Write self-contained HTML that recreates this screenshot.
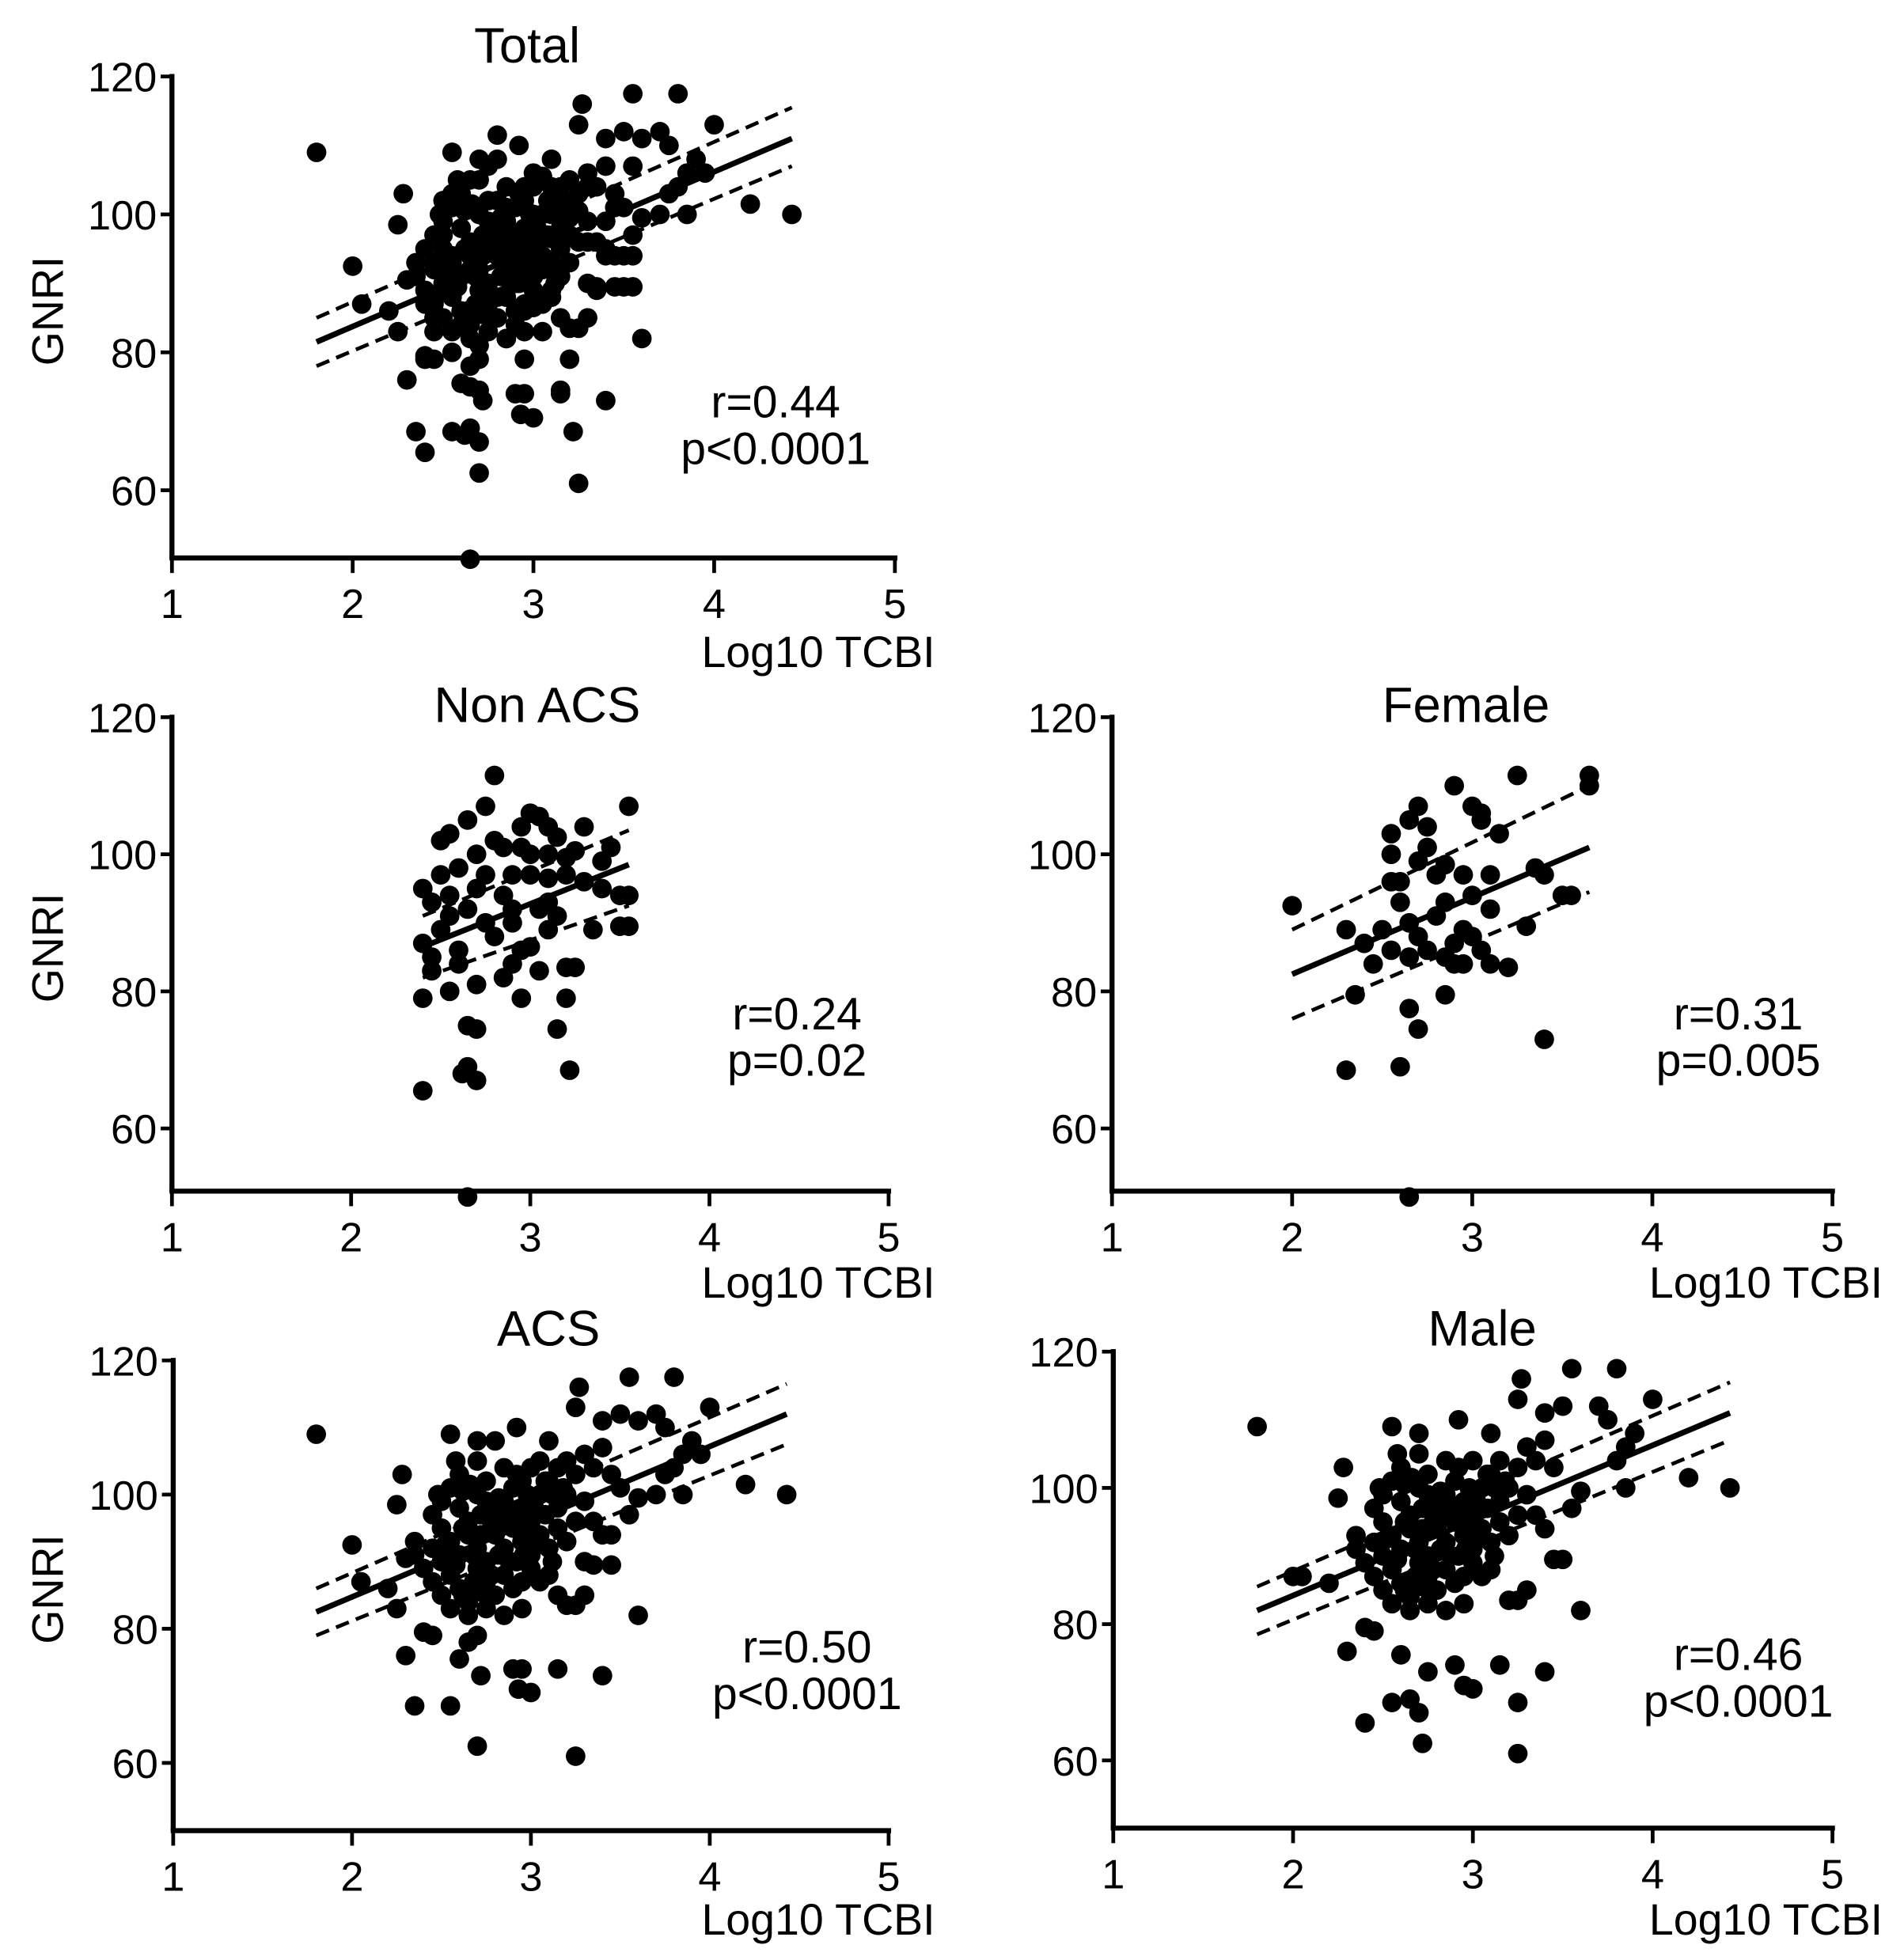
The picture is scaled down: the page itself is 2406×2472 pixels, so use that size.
<!DOCTYPE html>
<html><head><meta charset="utf-8"><style>
html,body{margin:0;padding:0;background:#fff;}
svg{display:block;font-family:"Liberation Sans",Arial,sans-serif;}
</style></head><body>
<svg id="chart" width="2406" height="2472" viewBox="0 0 1517 1560" preserveAspectRatio="none" xmlns="http://www.w3.org/2000/svg"></svg>
<script>
const nonAcsPoints=[[2.8,111.5],[2.55,103],[2.65,105],[2.75,107],[2.85,101],[2.95,101],[3.0,106],[3.05,105.5],[3.1,100],[3.2,99.5],[3.3,104],[3.45,101],[3.55,107],[2.4,95],[2.45,93],[2.5,97],[2.6,98],[2.7,100],[2.9,97],[3.0,97],[3.1,96.5],[3.2,97],[3.3,96],[3.4,95],[3.5,94],[3.55,94],[3.5,89.5],[3.55,89.5],[2.4,87],[2.45,85],[2.5,89],[2.55,91],[2.6,86],[2.65,92],[2.7,95],[2.75,90],[2.8,88],[2.85,82],[2.9,84],[2.95,86],[3.0,86.5],[3.05,92],[3.1,89],[3.15,91],[3.2,83.5],[3.25,83.5],[2.4,79],[2.55,80],[2.65,75],[2.7,74.5],[2.95,79],[3.15,74.5],[3.2,79],[3.22,68.5],[2.65,69],[2.7,67],[2.62,68],[2.4,65.5],[2.65,50],[2.6,84],[2.9,92],[3.0,100],[2.5,102],[2.75,97],[2.85,94],[3.35,89],[2.45,83],[2.7,81],[3.05,83],[2.8,102],[3.15,102.5],[3.25,100.5],[3.4,99],[2.95,104],[3.1,104],[2.55,94],[2.9,90],[3.1,93]];
const femalePoints=[[3.25,111.5],[3.65,111.5],[3.65,110],[2.9,110],[3.0,107],[3.05,106],[2.7,107],[2.55,103],[2.65,105],[2.75,104],[2.6,96],[2.55,96],[2.7,99],[2.8,97],[2.85,98.5],[2.95,97],[3.1,97],[3.05,105],[3.15,103],[3.35,98],[3.4,97],[3.5,94],[3.55,94],[3.3,89.5],[2.0,92.5],[2.3,89],[2.4,87],[2.45,84],[2.5,89],[2.6,93],[2.65,90],[2.7,88],[2.75,86],[2.8,91],[2.85,85],[2.9,87],[2.95,89],[3.0,94],[3.05,86],[2.55,86],[2.65,85],[2.9,84],[2.95,84],[3.0,88],[3.1,84],[3.2,83.5],[2.35,79.5],[2.85,79.5],[2.65,77.5],[2.7,74.5],[3.4,73],[2.3,68.5],[2.6,69],[2.65,50],[2.85,93],[3.1,92],[2.75,101],[2.55,100]];
const acsCluster=[[2.45,97],[2.5,95],[2.55,101],[2.6,98],[2.65,96],[2.7,100],[2.75,102],[2.8,97],[2.85,99],[2.9,101],[2.95,98],[3.0,96],[3.05,100],[3.1,102],[3.15,98],[3.2,100],[3.25,96],[2.45,92],[2.5,90],[2.55,93],[2.6,91],[2.65,94],[2.7,92],[2.75,90],[2.8,94],[2.85,92],[2.9,95],[2.95,93],[3.0,91],[3.05,94],[3.1,92],[3.15,95],[3.2,93],[3.3,99],[2.45,87],[2.5,85],[2.55,88],[2.6,86],[2.65,84],[2.7,89],[2.75,87],[2.8,85],[2.85,88],[2.9,86],[2.95,83],[3.0,89],[3.05,87],[3.1,88],[2.55,83],[2.65,82],[2.75,83],[2.85,82],[2.95,87],[2.4,89],[2.35,93],[2.5,99],[2.6,103],[2.7,105],[2.85,104],[3.0,104],[3.15,104],[2.62,100.5],[2.78,95],[2.92,90],[3.08,97],[3.25,103],[3.3,106],[3.35,104],[3.4,107],[2.58,105],[2.68,87],[2.82,91],[2.72,97],[2.98,100],[3.12,90],[2.52,92.5],[2.62,95],[2.72,94],[2.82,99.5],[2.92,97],[3.02,93],[3.12,100],[2.58,89.5],[2.68,91],[2.78,88],[2.88,90],[2.98,95],[3.08,102],[2.62,85],[2.72,85.5],[2.82,96],[2.92,103],[3.02,98],[3.18,101],[2.75,99],[2.88,96.5],[2.96,91],[2.48,100],[2.66,101.5]];
const acsOutliers=[[1.8,109],[2.0,92.5],[2.05,87],[2.2,86],[2.25,83],[2.25,98.5],[2.28,103],[2.3,90.5],[2.35,91],[2.3,76],[2.4,79.5],[2.45,79],[2.35,68.5],[2.55,68.5],[2.6,75.5],[2.65,78],[2.7,79],[2.72,73],[2.7,62.5],[2.9,74],[2.95,74],[2.93,71],[3.0,70.5],[3.15,74],[3.4,73],[3.25,61],[3.6,82],[4.2,101.5],[4.43,100],[4.0,113],[3.8,117.5],[3.55,117.5],[3.27,116],[3.25,113],[3.5,112],[3.6,111],[3.4,111],[3.7,112],[3.75,110],[3.9,108],[3.95,106],[3.85,106],[3.8,104],[3.75,103],[3.85,100],[3.7,100],[3.6,99.5],[3.5,101],[3.45,103],[3.55,97],[3.35,96],[3.4,94],[3.45,94],[3.3,90],[3.35,89.5],[3.45,89.5],[3.3,85],[3.25,83.5],[3.2,83.5],[3.15,85],[2.55,109],[2.7,108],[2.8,108],[2.92,110],[3.1,108],[3.2,105],[3.05,105],[2.95,102]];
const maleCluster=acsCluster;
const maleOutliers=[[1.8,109],[2.05,87],[2.2,86],[2.25,98.5],[2.28,103],[2.3,76],[2.4,79.5],[2.45,79],[2.4,65.5],[2.55,68.5],[2.6,75.5],[2.65,69],[2.7,67],[2.72,62.5],[2.75,73],[2.9,74],[2.95,71],[3.0,70.5],[3.15,74],[3.25,68.5],[3.25,61],[3.4,73],[3.6,82],[4.2,101.5],[4.43,100],[4.0,113],[3.8,117.5],[3.55,117.5],[3.27,116],[3.25,113],[3.5,112],[3.4,111],[3.7,112],[3.75,110],[3.9,108],[3.85,106],[3.8,104],[3.85,100],[3.6,99.5],[3.45,103],[3.55,97],[3.35,96],[3.4,94],[3.45,89.5],[3.5,89.5],[3.3,85],[3.25,83.5],[3.2,83.5],[2.55,109],[2.7,108],[2.92,110],[3.1,108],[2.35,91],[2.0,87]];
const xTicks=[1,2,3,4,5];
const yTicks=[60,80,100,120];
const fitTotal=[1.8,81.5,4.43,111], bandTotal=[1.8,85,78,4.43,115.5,107];
const fitNonAcs=[2.4,86.5,3.55,98.5], bandNonAcs=[2.4,91,82,3.55,103.5,92.5];
const fitFemale=[2.0,82.5,3.65,101], bandFemale=[2.0,89,76,3.65,110,94.5];
const fitAcs=[1.8,82.5,4.43,112], bandAcs=[1.8,86,79,4.43,116.5,107.5];
const fitMale=[1.8,82,4.43,111], bandMale=[1.8,85.5,78.5,4.43,115.5,107];

const NS="http://www.w3.org/2000/svg";
const svg=document.getElementById('chart');
function mk(tag,attrs,parent){const e=document.createElementNS(NS,tag);for(const k in attrs)e.setAttribute(k,attrs[k]);(parent||svg).appendChild(e);return e;}

const panels=[
 {key:'total',title:'Total',ax:137,x1:713,y120:61,y60:391,base:445,tx:420,ty:50,r:'r=0.44',p:'p<0.0001',rx:618,ry:333,ylab:true,pts:nonAcsPoints.concat(acsOutliers,acsCluster),fit:fitTotal,band:bandTotal,xlx:745,xly:532},
 {key:'non-acs',title:'Non ACS',ax:137,x1:708,y120:572,y60:900,base:950,tx:428,ty:576,r:'r=0.24',p:'p=0.02',rx:635,ry:821,ylab:true,pts:nonAcsPoints,fit:fitNonAcs,band:bandNonAcs,xlx:745,xly:1035},
 {key:'female',title:'Female',ax:886,x1:1460,y120:572,y60:900,base:950,tx:1168,ty:576,r:'r=0.31',p:'p=0.005',rx:1385,ry:821,ylab:false,pts:femalePoints,fit:fitFemale,band:bandFemale,xlx:1500,xly:1035},
 {key:'acs',title:'ACS',ax:138,x1:708,y120:1085,y60:1406,base:1460,tx:437,ty:1073,r:'r=0.50',p:'p<0.0001',rx:643,ry:1326,ylab:true,pts:acsOutliers.concat(acsCluster),fit:fitAcs,band:bandAcs,xlx:745,xly:1543},
 {key:'male',title:'Male',ax:887,x1:1460,y120:1078,y60:1404,base:1458,tx:1181,ty:1073,r:'r=0.46',p:'p<0.0001',rx:1385,ry:1332,ylab:false,pts:maleOutliers.concat(maleCluster),fit:fitMale,band:bandMale,xlx:1500,xly:1543}
];

panels.forEach(P=>{
 const g=mk('g',{});
 
 
 const X=v=>P.ax+(v-1)*(P.x1-P.ax)/4;
 const Y=v=>P.y120+(120-v)*(P.y60-P.y120)/60;
 const t=mk('text',{x:P.tx,y:P.ty,'font-size':40,'text-anchor':'middle'},g);t.textContent=P.title;
 
 const ya=mk('line',{x1:P.ax,y1:P.y120-2,x2:P.ax,y2:P.base,stroke:'#000','stroke-width':4},g);
 
 const xa=mk('line',{x1:P.ax-2,y1:P.base,x2:P.x1+2,y2:P.base,stroke:'#000','stroke-width':4},g);
 
 yTicks.forEach(v=>{
  const tk=mk('line',{x1:P.ax-9,y1:Y(v),x2:P.ax,y2:Y(v),stroke:'#000','stroke-width':3},g);
  
  const l=mk('text',{x:P.ax-12,y:Y(v)+12,'font-size':33,'text-anchor':'end'},g);l.textContent=v;
  
 });
 xTicks.forEach(v=>{
  const tk=mk('line',{x1:X(v),y1:P.base,x2:X(v),y2:P.base+12,stroke:'#000','stroke-width':3},g);
  
  const l=mk('text',{x:X(v),y:P.base+48,'font-size':33,'text-anchor':'middle'},g);l.textContent=v;
  
 });
 const xl=mk('text',{x:P.xlx,y:P.xly,'font-size':35,'text-anchor':'end'},g);xl.textContent='Log10 TCBI';
 
 if(P.ylab){const cy=(P.y120+P.base)/2-5;const yl=mk('text',{x:0,y:0,'font-size':35,'text-anchor':'middle',transform:`translate(50,${cy}) rotate(-90)`},g);yl.textContent='GNRI';
  }
 P.pts.forEach(d=>{const c=mk('circle',{cx:X(d[0]),cy:Y(d[1]),r:7.8,fill:'#000'},g);
  });
 const f=P.fit,b=P.band;
 const fl=mk('line',{x1:X(f[0]),y1:Y(f[1]),x2:X(f[2]),y2:Y(f[3]),stroke:'#000','stroke-width':4.5},g);
 
 const u=mk('line',{x1:X(b[0]),y1:Y(b[1]),x2:X(b[3]),y2:Y(b[4]),stroke:'#000','stroke-width':3,'stroke-dasharray':'11 6'},g);
 
 const lo=mk('line',{x1:X(b[0]),y1:Y(b[2]),x2:X(b[3]),y2:Y(b[5]),stroke:'#000','stroke-width':3,'stroke-dasharray':'11 6'},g);
 
 const rt=mk('text',{x:P.rx,y:P.ry,'font-size':36,'text-anchor':'middle'},g);rt.textContent=P.r;
 
 const pt=mk('text',{x:P.rx,y:P.ry+37,'font-size':36,'text-anchor':'middle'},g);pt.textContent=P.p;
 
});
</script>
</body></html>
